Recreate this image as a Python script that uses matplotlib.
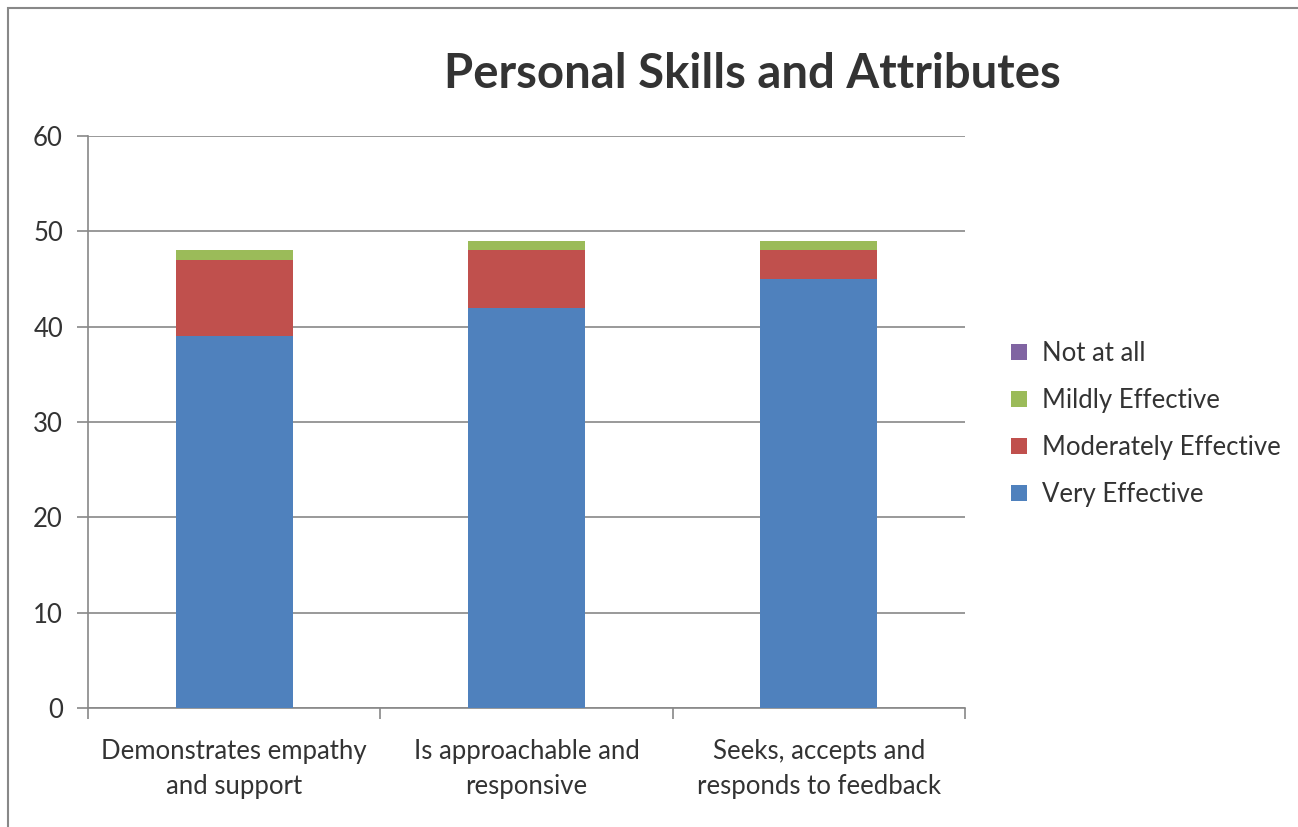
import matplotlib.pyplot as plt
import numpy as np
from matplotlib.patches import Rectangle

plt.rcParams['font.family'] = ['Lato', 'DejaVu Sans']

categories = ['Demonstrates empathy\nand support', 'Is approachable and\nresponsive',
              'Seeks, accepts and\nresponds to feedback']
very = [39, 42, 45]
moderately = [8, 6, 3]
mildly = [1, 1, 1]
not_at_all = [0, 0, 0]

series = [('Very Effective', very, '#4F81BD'),
          ('Moderately Effective', moderately, '#C0504D'),
          ('Mildly Effective', mildly, '#9BBB59'),
          ('Not at all', not_at_all, '#8064A2')]

fig = plt.figure(figsize=(12.98, 8.27), dpi=100)
fig.patches.append(Rectangle((8 / 1298, -0.05), 1.2, 1 - 8 / 827 + 0.05,
                             transform=fig.transFigure, fill=False,
                             edgecolor='#888888', linewidth=1.5))
ax = fig.add_axes([88 / 1298, 119 / 827, 877 / 1298, 572 / 827])

x = np.arange(len(categories))
bottom = np.zeros(len(categories))
handles = []
for name, vals, col in series:
    h = ax.bar(x, vals, 0.4, bottom=bottom, color=col, label=name, zorder=3)
    handles.append(h)
    bottom += np.array(vals)

ax.set_xlim(-0.5, 2.5)
ax.set_ylim(0, 60)
ax.set_yticks(range(0, 61, 10))
ax.yaxis.grid(True, color='#888888', linewidth=1.2, zorder=0)
for s in ['top', 'right']:
    ax.spines[s].set_visible(False)
ax.spines['left'].set_color('#888888')
ax.spines['bottom'].set_color('#888888')
ax.spines['left'].set_linewidth(1.2)
ax.spines['bottom'].set_linewidth(1.2)

ax.set_xticks([-0.5, 0.5, 1.5, 2.5])
ax.set_xticklabels([])
ax.set_xticks(x, minor=True)
ax.set_xticklabels(categories, minor=True, fontsize=18.5, color='#333333', linespacing=1.5)
ax.tick_params(axis='x', which='minor', length=0, pad=22)
ax.tick_params(axis='x', which='major', length=8, color='#888888', width=1.2)
ax.tick_params(axis='y', length=8, color='#888888', width=1.2, labelsize=18.5,
               labelcolor='#333333', pad=10)

fig.text(752 / 1298, 1 - 74 / 827, 'Personal Skills and Attributes', ha='center',
         va='center', fontsize=34, fontweight='bold', color='#333333')

leg = fig.legend(handles[::-1], [s[0] for s in series][::-1], loc='center left',
                 bbox_to_anchor=(988 / 1298, 1 - 424 / 827), frameon=False,
                 fontsize=18.5, handlelength=0.6, handleheight=0.6, handletextpad=0.6,
                 labelspacing=0.85, labelcolor='#333333')

fig.savefig('out.png', dpi=100)
